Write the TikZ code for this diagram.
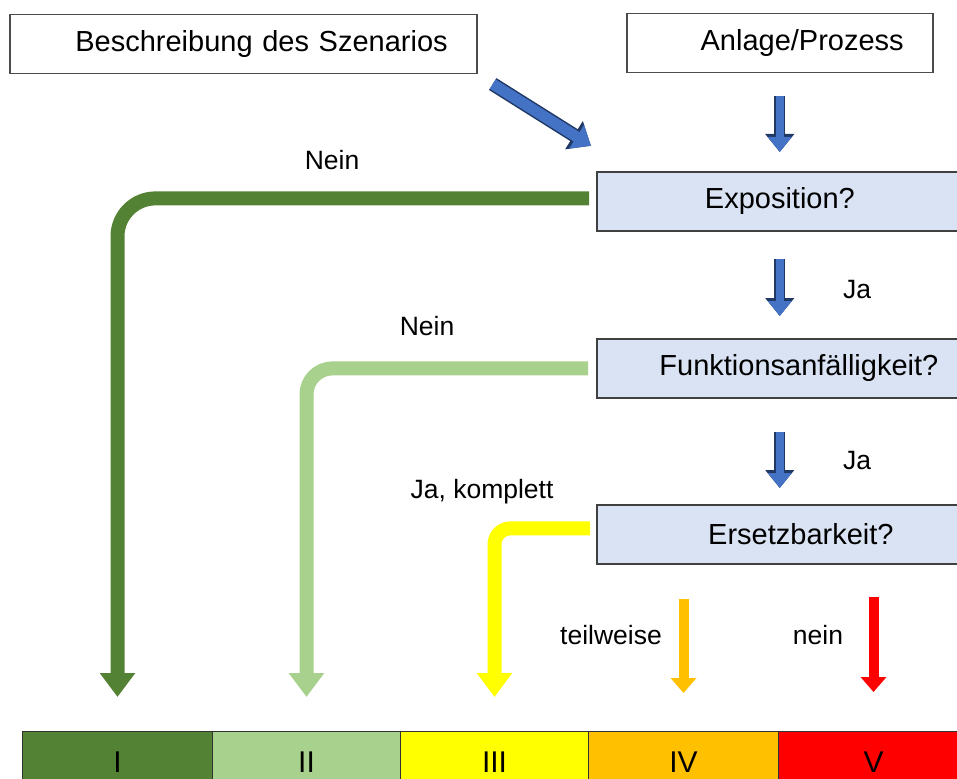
\documentclass[tikz,border=0pt]{standalone}
\usepackage{fontspec}
\setmainfont{Liberation Sans}
\usetikzlibrary{arrows.meta}

\definecolor{darkgreen}{HTML}{548235}
\definecolor{lightgreen}{HTML}{A9D18E}
\definecolor{signalyellow}{HTML}{FFFF00}
\definecolor{amber}{HTML}{FFC000}
\definecolor{signalred}{HTML}{FF0000}
\definecolor{boxblue}{HTML}{DAE3F3}
\definecolor{arrowblue}{HTML}{4472C4}
\definecolor{arrowrim}{HTML}{1F3864}

\tikzset{
  topbox/.style={draw=black!70, line width=1.5pt, fill=white, minimum height=59pt,
    anchor=north west, inner xsep=29pt, align=right, font=\fontsize{29}{34}\selectfont},
  askbox/.style={draw=black!75, line width=1.8pt, fill=boxblue, minimum height=59pt,
    anchor=north west, font=\fontsize{29}{34}\selectfont},
  answer/.style={font=\fontsize{26.5}{32}\selectfont},
  category/.style={draw=black!80, line width=1pt, minimum height=62pt, anchor=north west,
    inner sep=0pt, font=\fontsize{30}{34}\selectfont},
  ratearrow/.style={line width=14pt, -{Triangle[width=34pt,length=24pt]}},
  smallarrow/.style={line width=10pt, -{Triangle[width=25pt,length=15pt]}},
  bluearrow/.style={line width=8pt, draw=arrowblue, -{Triangle[width=23pt,length=15pt]},
    preaction={draw=arrowrim, line width=11pt, -{Triangle[width=28pt,length=18pt]}}},
  fatblue/.style={line width=11pt, draw=arrowblue, -{Triangle[width=27pt,length=17pt]},
    preaction={draw=arrowrim, line width=14pt, -{Triangle[width=32pt,length=20pt]}}},
}

\begin{document}
\begin{tikzpicture}[x=1pt, y=-1pt]
  \useasboundingbox (0,0) rectangle (957,778);

  % Starting boxes
  \node[topbox, minimum width=467pt, text width=409pt] (scen) at (9,14) {Beschreibung des Szenarios};
  \node[topbox, minimum width=306pt, text width=248pt] (plant) at (626,13) {Anlage/Prozess};

  % Questions
  \node[askbox, minimum width=366pt] (expo) at (596,171) {Exposition?};
  \node[askbox, minimum width=404pt] (susc) at (596,338) {Funktionsanfälligkeit?};
  \node[askbox, minimum width=408pt] (repl) at (596,504) {Ersetzbarkeit?};

  % Rating scale
  \node[category, fill=darkgreen, minimum width=190pt] (cat1) at (22,731) {I};
  \node[category, fill=lightgreen, minimum width=188pt] (cat2) at (212,731) {II};
  \node[category, fill=signalyellow, minimum width=188pt] (cat3) at (400,731) {III};
  \node[category, fill=amber, minimum width=190pt] (cat4) at (588,731) {IV};
  \node[category, fill=signalred, minimum width=190pt] (cat5) at (778,731) {V};

  % Blue flow arrows
  \draw[fatblue, shorten <=18pt, shorten >=6pt] (scen.south east) -- ([yshift=22pt]expo.north west);
  \draw[bluearrow, shorten <=23pt, shorten >=19pt] (plant.south) -- (plant.south |- expo.north);
  \draw[bluearrow, shorten <=27pt, shorten >=22pt] (plant.south |- expo.south) -- (plant.south |- susc.north);
  \draw[bluearrow, shorten <=33pt, shorten >=16pt] (plant.south |- susc.south) -- (plant.south |- repl.north);

  % Answers leading to the scale
  \draw[ratearrow, darkgreen, rounded corners=38pt, shorten <=7pt, shorten >=34pt]
    ([yshift=3pt]expo.west) -- ([yshift=3pt]expo.west -| cat1.north) -- (cat1.north);
  \draw[ratearrow, lightgreen, rounded corners=26pt, shorten <=8pt, shorten >=34pt]
    (susc.west) -- (susc.west -| cat2.north) -- (cat2.north);
  \draw[ratearrow, signalyellow, rounded corners=16pt, shorten <=6pt, shorten >=34pt]
    ([yshift=6pt]repl.west) -- ([yshift=6pt]repl.west -| cat3.north) -- (cat3.north);
  \draw[smallarrow, amber, shorten <=34pt, shorten >=38pt] (repl.south -| cat4.north) -- (cat4.north);
  \draw[smallarrow, signalred, shorten <=32pt, shorten >=39pt] (repl.south -| cat5.north) -- (cat5.north);

  % Labels
  \node[answer] (no1) at (332,160) {Nein};
  \node[answer] (yes1) at (857,290) {Ja};
  \node[answer] (no2) at (427,326) {Nein};
  \node[answer] (yes2) at (857,461) {Ja};
  \node[answer] (full) at (482,492) {Ja, komplett};
  \node[answer] (part) at (611,635) {teilweise};
  \node[answer] (none) at (818,635) {nein};
\end{tikzpicture}
\end{document}
